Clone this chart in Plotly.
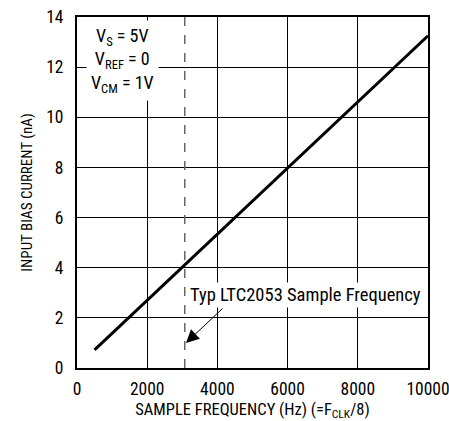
import plotly.graph_objects as go

freq = [500, 2000, 4000, 6000, 8000, 10000]
bias = [0.72, 2.7, 5.33, 7.97, 10.6, 13.25]
typ_freq = 3070
x_ticks = [0, 2000, 4000, 6000, 8000, 10000]
x_labels = ["0", "2000", "4000", "6000", "8000", "10000"]
y_ticks = [0, 2, 4, 6, 8, 10, 12, 14]
y_labels = ["0", "2", "4", "6", "8", "10", "12", "14"]

FONT = "Roboto Condensed, DejaVu Sans Condensed, Roboto, sans-serif"

fig = go.Figure()
fig.add_trace(go.Scatter(x=freq, y=bias, mode="lines",
                         line=dict(color="black", width=3), showlegend=False))
fig.add_trace(go.Scatter(x=[typ_freq, typ_freq], y=[0, 14], mode="lines",
                         line=dict(color="#666666", width=1.5, dash="dash"), showlegend=False))

fig.add_annotation(x=0.025, xref="paper", y=1.0, yref="paper", xanchor="left", yanchor="top",
                   text="V<sub>S</sub> = 5V<br>V<sub>REF</sub> = 0<br>V<sub>CM</sub> = 1V",
                   showarrow=False, bgcolor="white", align="center", yshift=-3,
                   font=dict(family=FONT, size=18, color="black"), borderpad=4)
fig.add_annotation(x=6510, y=2.91, text="Typ LTC2053 Sample Frequency", showarrow=False,
                   bgcolor="white", font=dict(family=FONT, size=18.5, color="black"), borderpad=1)
fig.add_annotation(x=3105, y=1.0, ax=4188, ay=2.43, axref="x", ayref="y",
                   showarrow=True, arrowhead=2, arrowsize=2.6, arrowwidth=1, arrowcolor="black", text="")

fig.update_layout(
    width=449, height=421,
    margin=dict(l=77, r=21, t=17, b=53),
    plot_bgcolor="white", paper_bgcolor="white",
    font=dict(family=FONT, size=17.5, color="black"),
    xaxis=dict(range=[0, 10000], tickvals=x_ticks, ticktext=x_labels, showgrid=True,
               gridcolor="black", gridwidth=1, automargin=False, ticklabeloverflow="allow",
               showline=True, linecolor="black", linewidth=2, mirror=True, zeroline=False,
               ticks="", ticklabelstandoff=4,
               title=dict(text="SAMPLE FREQUENCY (Hz) (=F<sub>CLK</sub>/8)", standoff=10,
                          font=dict(size=16.5))),
    yaxis=dict(range=[0, 14], tickvals=y_ticks, ticktext=y_labels, showgrid=True,
               gridcolor="black", gridwidth=1, automargin=False,
               showline=True, linecolor="black", linewidth=2, mirror=True, zeroline=False,
               ticks="", ticklabelstandoff=8,
               title=dict(text="INPUT BIAS CURRENT (nA)", standoff=10, font=dict(size=15))),
)

fig.write_html("out.html", config={"displayModeBar": False},
               post_script="document.body.style.margin='0px';")
